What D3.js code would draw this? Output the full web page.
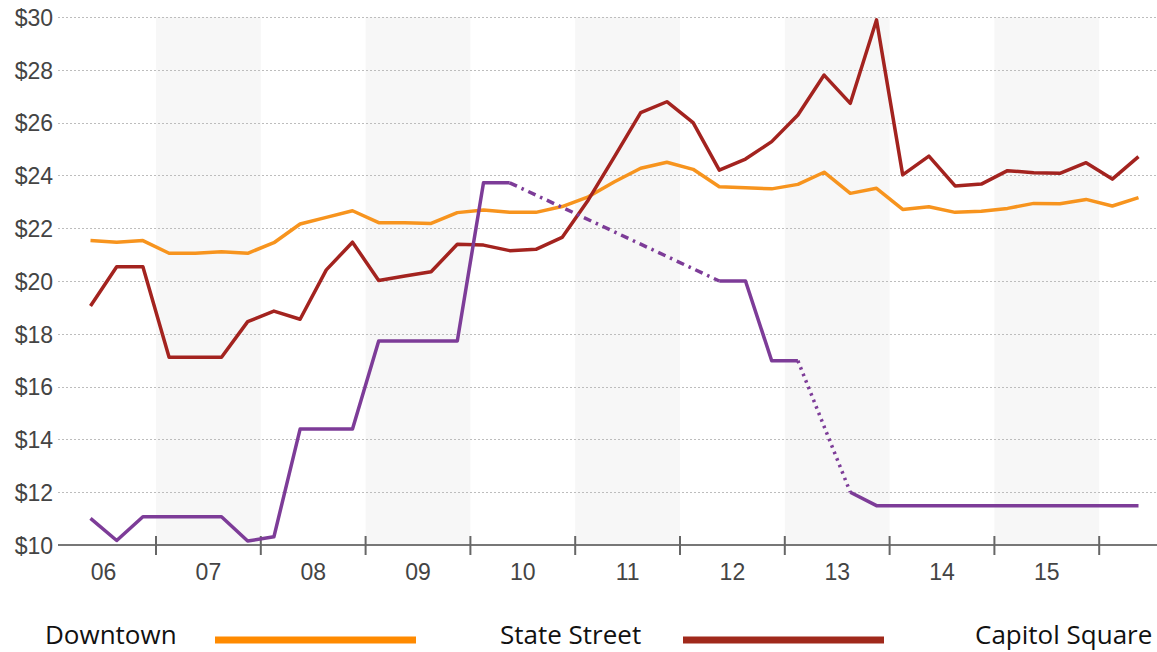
<!DOCTYPE html>
<html>
<head>
<meta charset="utf-8">
<script src="https://cdn.jsdelivr.net/npm/d3@7"></script>
<style>
  html, body { margin: 0; padding: 0; background: #fff; }
  svg { display: block; }
</style>
</head>
<body>
<svg id="chart" width="1157" height="652"></svg>
<script>
// Quarterly asking rents, $ per sq ft
const quarters = [
  "06Q2","06Q3","06Q4","07Q1","07Q2","07Q3","07Q4","08Q1","08Q2","08Q3","08Q4",
  "09Q1","09Q2","09Q3","09Q4","10Q1","10Q2","10Q3","10Q4","11Q1","11Q2","11Q3",
  "11Q4","12Q1","12Q2","12Q3","12Q4","13Q1","13Q2","13Q3","13Q4","14Q1","14Q2",
  "14Q3","14Q4","15Q1","15Q2","15Q3","15Q4","16Q1","16Q2"
];
const years = ["06","07","08","09","10","11","12","13","14","15"];
const yTicks = [10, 12, 14, 16, 18, 20, 22, 24, 26, 28, 30];

const downtown = [
  21.53, 21.47, 21.53, 21.05, 21.05, 21.11, 21.05, 21.45, 22.16, 22.41, 22.66,
  22.21, 22.21, 22.18, 22.59, 22.69, 22.60, 22.60, 22.82, 23.19, 23.76, 24.27,
  24.50, 24.23, 23.57, 23.53, 23.49, 23.66, 24.12, 23.32, 23.51, 22.71, 22.81,
  22.60, 22.64, 22.75, 22.94, 22.93, 23.09, 22.84, 23.16
];
const stateStreet = [
  19.05, 20.54, 20.54, 17.11, 17.11, 17.11, 18.46, 18.86, 18.55, 20.42, 21.47,
  20.02, 20.19, 20.35, 21.39, 21.36, 21.15, 21.20, 21.65, 23.07, 24.71, 26.38,
  26.79, 26.00, 24.20, 24.62, 25.28, 26.29, 27.80, 26.73, 29.89, 24.02, 24.73,
  23.60, 23.67, 24.18, 24.10, 24.08, 24.48, 23.86, 24.71
];
const capitolSquare = [
  11.01, 10.17, 11.07, 11.07, 11.07, 11.07, 10.15, 10.31, 14.39, 14.39, 14.39,
  17.73, 17.73, 17.73, 17.73, 23.72, 23.72, null, null, null, null, null,
  null, null, 20.00, 20.00, 16.98, 16.98, null, 12.00, 11.49, 11.49, 11.49,
  11.49, 11.49, 11.49, 11.49, 11.49, 11.49, 11.49, 11.49
];

// dash patterns for the bridged gaps in Capitol Square, in order
const gapDashes = ["8,5,2.5,5", "2.5,4.5"];

const series = [
  { name: "Downtown",       values: downtown,      color: "#f7941e", swatch: "#ff8a00" },
  { name: "State Street",   values: stateStreet,   color: "#a3231f", swatch: "#a0291b" },
  { name: "Capitol Square", values: capitolSquare, color: "#7d3c98", swatch: "#7d3c98" }
];

const svg = d3.select("#chart");
const W = 1157;
const plotLeft = 58, plotTop = 17, plotBottom = 545;

// quarter index → x; each year starts 1.5 quarters before its second-quarter point
const x = d3.scaleLinear().domain([-1.5, 38.5]).range([51.2, 1099.2]);
const y = d3.scaleLinear().domain([10, 30]).range([plotBottom, plotTop]);

const yearStart = i => -1.5 + 4 * i;

// alternating year bands
svg.append("g").selectAll("rect")
  .data(years.filter((d, i) => i % 2 === 1))
  .join("rect")
  .attr("x", d => x(yearStart(years.indexOf(d))))
  .attr("y", plotTop)
  .attr("width", d => x(yearStart(years.indexOf(d) + 1)) - x(yearStart(years.indexOf(d))))
  .attr("height", plotBottom - plotTop)
  .attr("fill", "#f7f7f7");

// horizontal gridlines
svg.append("g").selectAll("line")
  .data(yTicks.filter(v => v > 10))
  .join("line")
  .attr("x1", plotLeft).attr("x2", W)
  .attr("y1", d => Math.round(y(d)) + 0.5).attr("y2", d => Math.round(y(d)) + 0.5)
  .attr("stroke", "#bdbdbd").attr("stroke-width", 1)
  .attr("stroke-dasharray", "2,2");

// y axis labels
const yAxis = d3.axisLeft(y).tickValues(yTicks).tickSize(0).tickPadding(0)
  .tickFormat(d => "$" + d);
svg.append("g")
  .attr("transform", `translate(53,0)`)
  .call(yAxis)
  .call(g => g.select(".domain").remove())
  .call(g => g.selectAll("text")
    .attr("font-family", "'Liberation Sans', Arial, sans-serif")
    .attr("font-size", 23)
    .attr("fill", "#444")
    .attr("dy", "0.36em"));

// x axis baseline and year ticks
svg.append("line")
  .attr("x1", plotLeft).attr("x2", W)
  .attr("y1", plotBottom).attr("y2", plotBottom)
  .attr("stroke", "#777").attr("stroke-width", 2);

svg.append("g").selectAll("line")
  .data(d3.range(1, years.length + 1))
  .join("line")
  .attr("x1", d => x(yearStart(d))).attr("x2", d => x(yearStart(d)))
  .attr("y1", 536).attr("y2", 555)
  .attr("stroke", "#666").attr("stroke-width", 2);

svg.append("g").selectAll("text")
  .data(years)
  .join("text")
  .attr("x", (d, i) => (x(yearStart(i)) + x(yearStart(i + 1))) / 2)
  .attr("y", 580)
  .attr("text-anchor", "middle")
  .attr("font-family", "'Liberation Sans', Arial, sans-serif")
  .attr("font-size", 23)
  .attr("fill", "#444")
  .text(d => d);

// series lines
const line = d3.line()
  .defined(d => d != null)
  .x((d, i) => x(i))
  .y(d => y(d));

series.forEach(s => {
  svg.append("path")
    .datum(s.values)
    .attr("fill", "none")
    .attr("stroke", s.color)
    .attr("stroke-width", 3.5)
    .attr("stroke-linejoin", "round")
    .attr("d", line);

  // bridge missing quarters with a dotted segment
  let gap = 0;
  for (let i = 1; i < s.values.length; i++) {
    if (s.values[i] == null && s.values[i - 1] != null) {
      let j = i;
      while (j < s.values.length && s.values[j] == null) j++;
      if (j < s.values.length) {
        svg.append("line")
          .attr("x1", x(i - 1)).attr("y1", y(s.values[i - 1]))
          .attr("x2", x(j)).attr("y2", y(s.values[j]))
          .attr("stroke", s.color)
          .attr("stroke-width", 3.5)
          .attr("stroke-dasharray", gapDashes[gap % gapDashes.length]);
        gap++;
      }
    }
  }
});

// legend
const legendPos = [
  { tx: 45,  sx1: 215, sx2: 416 },
  { tx: 500, sx1: 683, sx2: 884 },
  { tx: 975, sx1: 1190, sx2: 1390 }
];
const legend = svg.append("g").selectAll("g")
  .data(series)
  .join("g");
legend.append("text")
  .attr("x", (d, i) => legendPos[i].tx)
  .attr("y", 644)
  .attr("font-family", "'Open Sans', sans-serif")
  .attr("font-size", 26)
  .attr("fill", "#111")
  .text(d => d.name);
legend.append("rect")
  .attr("x", (d, i) => legendPos[i].sx1)
  .attr("y", 636.5)
  .attr("width", (d, i) => legendPos[i].sx2 - legendPos[i].sx1)
  .attr("height", 7)
  .attr("fill", d => d.swatch);
</script>
</body>
</html>
